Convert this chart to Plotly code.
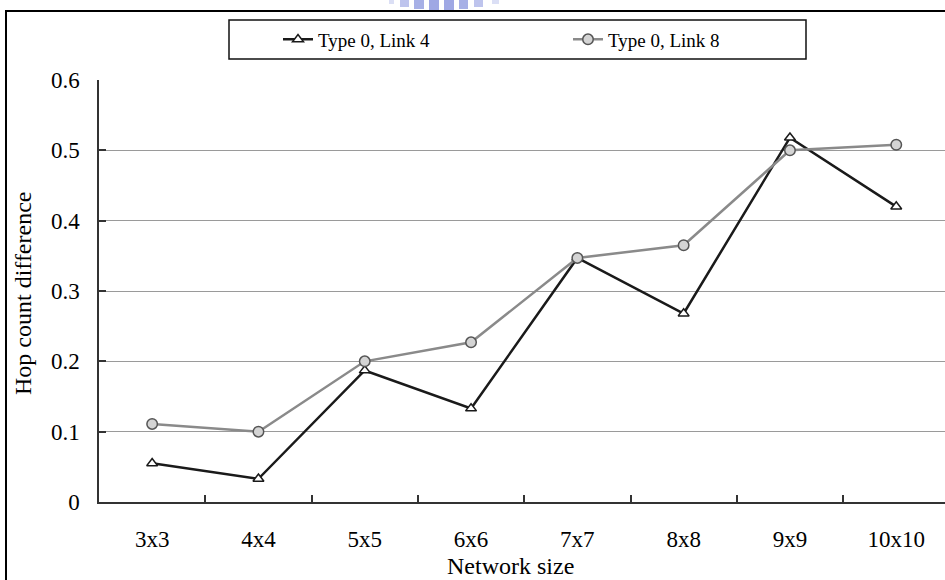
import plotly.graph_objects as go

# Network sizes on the x axis
sizes = ["3x3", "4x4", "5x5", "6x6", "7x7", "8x8", "9x9", "10x10"]

# Hop count difference per network size
type0_link4 = [0.055, 0.033, 0.187, 0.133, 0.347, 0.268, 0.518, 0.420]
type0_link8 = [0.111, 0.100, 0.200, 0.227, 0.347, 0.365, 0.500, 0.508]

y_ticks = [0, 0.1, 0.2, 0.3, 0.4, 0.5, 0.6]
y_tick_text = ["0", "0.1", "0.2", "0.3", "0.4", "0.5", "0.6"]

W, H = 945, 580
L, R, T, B = 99, 0, 80, 78
PW, PH = W - L - R, H - T - B

def px(x):
    return (x - L) / PW

def py(y):
    return (H - B - y) / PH

FONT = "Liberation Serif, Times New Roman, serif"

fig = go.Figure()
fig.add_trace(go.Scatter(
    x=sizes, y=type0_link4, name="Type 0, Link 4", mode="lines+markers",
    line=dict(color="#1a1a1a", width=2.5),
    marker=dict(symbol="triangle-up", size=9.5, color="white",
                line=dict(color="#1a1a1a", width=1.5)),
    legend="legend", showlegend=True,
))
fig.add_trace(go.Scatter(
    x=sizes, y=type0_link8, name="Type 0, Link 8", mode="lines+markers",
    line=dict(color="#8a8a8a", width=2.5),
    marker=dict(symbol="circle", size=10.5, color="#d4d4d4",
                line=dict(color="#555555", width=1.5)),
    legend="legend2", showlegend=True,
))

legend_common = dict(
    orientation="h", xanchor="left", yanchor="middle",
    bgcolor="rgba(0,0,0,0)", borderwidth=0,
    font=dict(family=FONT, size=19, color="black"),
)

fig.update_layout(
    width=W, height=H,
    margin=dict(l=L, r=R, t=T, b=B, pad=0),
    paper_bgcolor="white", plot_bgcolor="white",
    font=dict(family=FONT, size=23, color="black"),
    showlegend=True,
    legend=dict(x=px(278), y=py(39.5), **legend_common),
    legend2=dict(x=px(568), y=py(39.5), **legend_common),
    xaxis=dict(
        type="category", range=[-0.5, -0.5 + PW / 106.3],
        showgrid=False, zeroline=False,
        showline=True, linecolor="#333333", linewidth=2,
        ticks="inside", ticklen=7, tickwidth=1.5, tickcolor="#333333",
        tickson="boundaries", ticklabelstandoff=15,
        tickfont=dict(family=FONT, size=23, color="black"),
    ),
    yaxis=dict(
        range=[0, 0.6], tickvals=y_ticks, ticktext=y_tick_text,
        showgrid=True, gridcolor="#9a9a9a", gridwidth=1,
        zeroline=False,
        showline=True, linecolor="#333333", linewidth=1.5,
        ticks="inside", ticklen=7, tickwidth=1.5, tickcolor="#333333",
        ticklabelstandoff=13,
        tickfont=dict(family=FONT, size=23, color="black"),
    ),
)

# Axis titles
fig.add_annotation(
    text="Hop count difference", textangle=-90,
    xref="paper", yref="paper", x=px(23), y=py(294),
    xanchor="center", yanchor="middle", showarrow=False,
    font=dict(family=FONT, size=24, color="black"),
)
fig.add_annotation(
    text="Network size",
    xref="paper", yref="paper", x=px(510), y=py(566),
    xanchor="center", yanchor="middle", showarrow=False,
    font=dict(family=FONT, size=24, color="black"),
)

# Outer frame of the chart
fig.add_shape(type="rect", xref="paper", yref="paper",
              x0=px(6), x1=px(952), y0=py(600), y1=py(11),
              line=dict(color="black", width=2), fillcolor="rgba(0,0,0,0)",
              layer="above")
# Legend box
fig.add_shape(type="rect", xref="paper", yref="paper",
              x0=px(229), x1=px(806), y0=py(59), y1=py(20),
              line=dict(color="#111111", width=1.5), fillcolor="rgba(0,0,0,0)",
              layer="above")

# Logo marks at the top edge
logo = [(389, 394, 4, "#d5d9f3"), (400, 409, 7, "#b3baea"), (414, 424, 9, "#98a2e2"),
        (429, 439, 10, "#8e99df"), (444, 454, 10, "#8e99df"), (459, 468, 9, "#98a2e2"),
        (474, 483, 7, "#b3baea"), (492, 499, 4, "#d5d9f3")]
for x0, x1, h, c in logo:
    fig.add_shape(type="rect", xref="paper", yref="paper",
                  x0=px(x0), x1=px(x1), y0=py(h), y1=py(-2),
                  line=dict(width=0), fillcolor=c, opacity=0.85, layer="above")

fig.write_html("out.html")
